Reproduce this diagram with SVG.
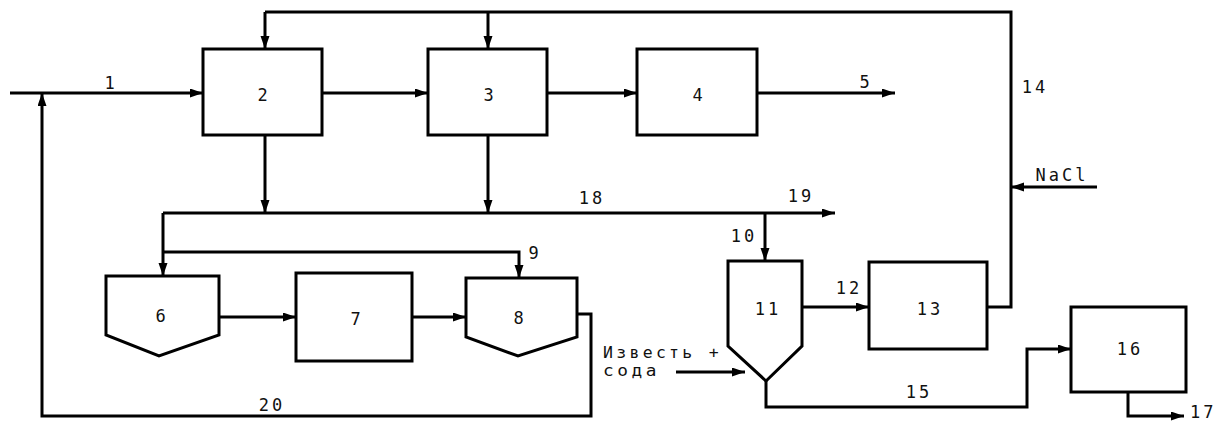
<svg xmlns="http://www.w3.org/2000/svg" width="1218" height="421" viewBox="0 0 1218 421">
  <style>
    .unit { fill: #fff; stroke: #000; stroke-width: 3; stroke-linejoin: miter; }
    .flow { fill: none; stroke: #000; stroke-width: 3; stroke-linejoin: miter; }
    .arr { marker-end: url(#head); }
    text { font-family: "DejaVu Sans Mono", "Liberation Mono", monospace; font-size: 17px; fill: #111; letter-spacing: 3px; }
    .c { text-anchor: middle; }
    .note { font-size: 15px; }
  </style>
  <defs>
    <marker id="head" markerUnits="userSpaceOnUse" markerWidth="14" markerHeight="10" refX="13" refY="4.5" orient="auto">
      <path d="M0,0 L13,4.5 L0,9 Z" fill="#000"/>
    </marker>
  </defs>
  <rect width="1218" height="421" fill="#fff"/>

  <!-- process streams -->
  <g id="connectors">
    <!-- 1: feed into unit 2 -->
    <path class="flow arr" d="M10,93 H203"/>
    <path class="flow arr" d="M322,93 H428"/>
    <path class="flow arr" d="M547,93 H637"/>
    <!-- 5: product -->
    <path class="flow arr" d="M757,93 H895"/>
    <!-- 14: return brine header -->
    <path class="flow" d="M987,307 H1011 V12 H265"/>
    <path class="flow arr" d="M265,12 V49"/>
    <path class="flow arr" d="M488,12 V49"/>
    <!-- NaCl make-up -->
    <path class="flow arr" d="M1097,187 H1011"/>
    <!-- 18: collector line -->
    <path class="flow arr" d="M265,135 V213"/>
    <path class="flow arr" d="M488,135 V213"/>
    <path class="flow arr" d="M163,213 H835"/>
    <path class="flow arr" d="M163,213 V276"/>
    <!-- 9 -->
    <path class="flow arr" d="M163,252 H519 V278"/>
    <path class="flow arr" d="M219,317 H296"/>
    <path class="flow arr" d="M412,317 H466"/>
    <!-- 20: recycle -->
    <path class="flow arr" d="M577,314 H591 V416 H42 V93"/>
    <!-- 10 -->
    <path class="flow arr" d="M765,213 V261"/>
    <!-- 12 -->
    <path class="flow arr" d="M802,307 H869"/>
    <!-- lime + soda -->
    <path class="flow arr" d="M676,372 H745"/>
    <!-- 15 -->
    <path class="flow arr" d="M766,381 V407 H1027 V349 H1071"/>
    <!-- 17 -->
    <path class="flow arr" d="M1128,392 V416 H1184"/>
  </g>

  <g id="unit2"><rect class="unit" x="203" y="49" width="119" height="86"/><text class="c" x="264" y="101">2</text></g>
  <g id="unit3"><rect class="unit" x="428" y="49" width="119" height="86"/><text class="c" x="490" y="101">3</text></g>
  <g id="unit4"><rect class="unit" x="637" y="49" width="120" height="86"/><text class="c" x="699" y="101">4</text></g>
  <g id="unit6"><path class="unit" d="M106,276 H219 V335 L159,356 L106,335 Z"/><text class="c" x="162" y="322">6</text></g>
  <g id="unit7"><rect class="unit" x="296" y="273" width="116" height="88"/><text class="c" x="357" y="325">7</text></g>
  <g id="unit8"><path class="unit" d="M466,278 H577 V337 L518,356 L466,337 Z"/><text class="c" x="520" y="324">8</text></g>
  <g id="unit11"><path class="unit" d="M728,261 H802 V346 L766,381 L728,346 Z"/><text class="c" x="768" y="315">11</text></g>
  <g id="unit13"><rect class="unit" x="869" y="262" width="118" height="87"/><text class="c" x="930" y="315">13</text></g>
  <g id="unit16"><rect class="unit" x="1071" y="307" width="115" height="85"/><text class="c" x="1130" y="355">16</text></g>

  <g id="labels">
    <text class="c" x="111" y="89">1</text>
    <text class="c" x="866" y="88">5</text>
    <text class="c" x="1035" y="93">14</text>
    <text class="c" x="1062" y="181">NaCl</text>
    <text class="c" x="592" y="204">18</text>
    <text class="c" x="801" y="202">19</text>
    <text class="c" x="535" y="259">9</text>
    <text class="c" x="744" y="242">10</text>
    <text class="c" x="849" y="294">12</text>
    <text class="c" x="919" y="398">15</text>
    <text class="c" x="272" y="411">20</text>
    <text x="1190" y="418">17</text>
    <text class="note" x="603" y="358" textLength="119" lengthAdjust="spacingAndGlyphs">Известь +</text>
    <text class="note" x="603" y="376" textLength="57" lengthAdjust="spacingAndGlyphs">сода</text>
  </g>
</svg>
